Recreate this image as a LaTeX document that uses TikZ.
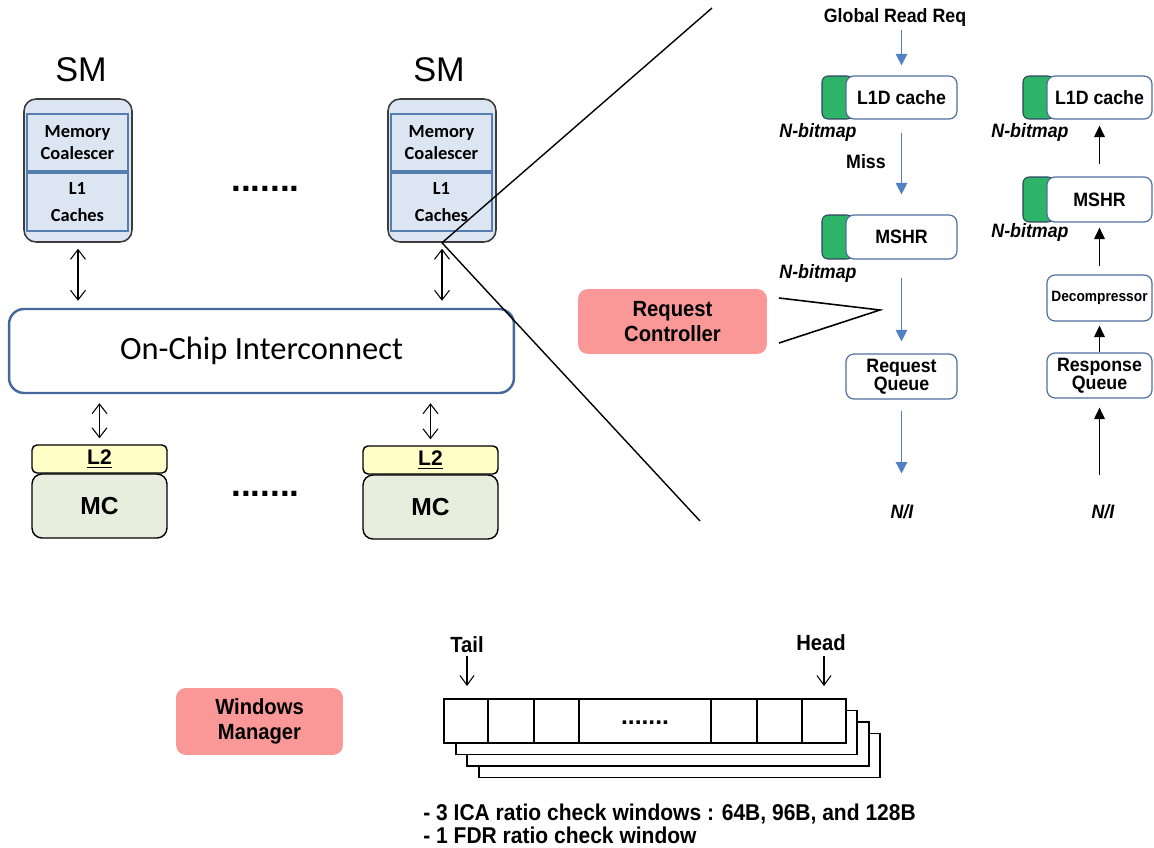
\documentclass[tikz,border=0pt]{standalone}
\usepackage{fontspec}
\setmainfont{Liberation Sans}
\newfontfamily\calfont{Carlito}
\newfontfamily\narrowfont[FakeStretch=0.92]{Liberation Sans}
\usetikzlibrary{arrows.meta}

\definecolor{smfill}{RGB}{220,230,242}
\definecolor{smline}{RGB}{60,60,60}
\definecolor{cellline}{RGB}{84,125,176}
\definecolor{icline}{RGB}{70,105,155}
\definecolor{lyellow}{RGB}{255,255,200}
\definecolor{mcfill}{RGB}{233,237,222}
\definecolor{boxline}{RGB}{80,110,160}
\definecolor{tabgreen}{RGB}{45,180,105}
\definecolor{flowblue}{RGB}{80,130,195}
\definecolor{ctrlpink}{RGB}{250,152,152}

\tikzset{
  smbox/.style={draw=smline, line width=0.9pt, fill=smfill, rounded corners=0.24cm,
    minimum width=2.16cm, minimum height=2.86cm, inner sep=0},
  smcell/.style={draw=cellline, line width=0.9pt, fill=smfill, minimum width=2.02cm,
    align=center, inner sep=0, font=\calfont\bfseries\fontsize{10.5}{12.5}\selectfont},
  smlabel/.style={font=\fontsize{19.5}{22}\selectfont, inner sep=0},
  dbl/.style={{Straight Barb[length=5.5pt,width=8.5pt]}-{Straight Barb[length=5.5pt,width=8.5pt]}, line width=0.6pt},
  icbox/.style={draw=icline, line width=1.4pt, fill=white, rounded corners=0.3cm,
    minimum width=10.1cm, minimum height=1.68cm, font=\calfont\fontsize{18.5}{22}\selectfont},
  l2box/.style={draw=black, line width=0.8pt, fill=lyellow, rounded corners=0.1cm,
    minimum width=2.7cm, minimum height=0.56cm, inner sep=0, font=\bfseries\fontsize{12}{14}\selectfont},
  mcbox/.style={draw=black, line width=0.8pt, fill=mcfill, rounded corners=0.2cm,
    minimum width=2.7cm, minimum height=1.28cm, inner sep=0, font=\bfseries\fontsize{14}{16}\selectfont},
  bigdots/.style={font=\bfseries\fontsize{20}{22}\selectfont, inner sep=0, anchor=base},
  zoomline/.style={line width=0.8pt},
  unit/.style={draw=boxline, line width=0.7pt, fill=white, rounded corners=0.16cm, inner sep=0,
    align=center, font=\narrowfont\bfseries\fontsize{11}{10.5}\selectfont},
  tab/.style={draw=boxline!60!black, fill=tabgreen, rounded corners=0.12cm, minimum width=0.62cm,
    inner sep=0, line width=0.6pt},
  bitmap/.style={font=\narrowfont\bfseries\itshape\fontsize{11}{13}\selectfont, inner sep=0},
  lbl/.style={font=\narrowfont\bfseries\fontsize{11}{13}\selectfont, inner sep=0},
  niface/.style={font=\narrowfont\bfseries\itshape\fontsize{11}{13}\selectfont, inner sep=0},
  flow/.style={draw=flowblue, line width=0.8pt, -{Triangle[length=6.5pt,width=6.5pt]}},
  resp/.style={line width=0.9pt, -{Triangle[length=6.5pt,width=6pt]}},
  ctrl/.style={fill=ctrlpink, rounded corners=0.2cm, align=center, inner sep=0,
    font=\narrowfont\bfseries\fontsize{12.5}{14}\selectfont},
  winbox/.style={draw=black, line width=1.1pt, fill=white, minimum width=8.04cm,
    minimum height=0.88cm, inner sep=0},
  winline/.style={line width=1.1pt},
  ptr/.style={line width=0.6pt, -{Straight Barb[length=5.5pt,width=8pt]}},
  note/.style={font=\narrowfont\bfseries\fontsize{13}{15}\selectfont, inner sep=0, anchor=base west}
}

\begin{document}
\begin{tikzpicture}[x=0.02cm, y=-0.02cm]
\useasboundingbox (0,0) rectangle (1154,848);

% ---------- streaming multiprocessors ----------
\node[smlabel] (sml1) at (81,70) {SM};
\node[smlabel] (sml2) at (439,70) {SM};

\node[smbox] (sm1) at (78,170.5) {};
\node[smcell, minimum height=1.14cm] (mc1) at (77.5,142.5) {Memory\\Coalescer};
\node[smcell, minimum height=1.16cm] (lc1) at (77.5,202) {L1\\[3pt]Caches};

\node[smbox] (sm2) at (442,170.5) {};
\node[smcell, minimum height=1.14cm] (mc2) at (441.5,142.5) {Memory\\Coalescer};
\node[smcell, minimum height=1.16cm] (lc2) at (441.5,202) {L1\\[3pt]Caches};

\node[bigdots] (dotsA) at (265.5,192) {.......};

% ---------- interconnect ----------
\node[icbox] (ic) at (261.5,351) {On-Chip Interconnect};

\draw[dbl, shorten <=0.12cm, shorten >=0.14cm] (sm1.south) -- (sm1.south |- ic.north);
\draw[dbl, shorten <=0.12cm, shorten >=0.14cm] (sm2.south) -- (sm2.south |- ic.north);

% ---------- L2 slices and memory controllers ----------
\node[l2box] (l2a) at (99.5,459) {\underline{L2}};
\node[mcbox] (mca) at (99.5,506) {MC};
\node[l2box] (l2b) at (430.5,460) {\underline{L2}};
\node[mcbox] (mcb) at (430.5,507) {MC};
\node[bigdots] (dotsB) at (265.5,496) {.......};

\draw[dbl, shorten <=0.18cm, shorten >=0.12cm] (l2a.north |- ic.south) -- (l2a.north);
\draw[dbl, shorten <=0.18cm, shorten >=0.12cm] (l2b.north |- ic.south) -- (l2b.north);

% ---------- magnified view ----------
\coordinate (zt) at (712,8);
\coordinate (zb) at (700,521);
\draw[zoomline] (sm2.south) -- (zt);
\draw[zoomline] (sm2.south) -- (zb);

% request path
\node[lbl] (grr) at (895,18) {Global Read Req};
\node[tab, minimum height=0.86cm] (tabA1) at (837.5,97.5) {};
\node[unit, minimum width=2.22cm, minimum height=0.86cm] (l1dA) at (901.5,97.5) {L1D cache};
\node[bitmap] (bmA1) at (818,133) {N-bitmap};
\node[lbl] (miss) at (866,162) {Miss};
\node[tab, minimum height=0.88cm] (tabA2) at (837.5,237) {};
\node[unit, minimum width=2.22cm, minimum height=0.88cm] (mshrA) at (901.5,237) {MSHR};
\node[bitmap] (bmA2) at (818,274) {N-bitmap};
\node[unit, minimum width=2.22cm, minimum height=0.9cm] (rq) at (901.5,376.5) {Request\\Queue};
\node[niface] (niA) at (902,512) {N/I};

\draw[flow, shorten <=0.06cm, shorten >=0.2cm] (grr.south -| l1dA.north) -- (l1dA.north);
\draw[flow, shorten <=0.26cm, shorten >=0.4cm] (l1dA.south) -- (mshrA.north);
\draw[flow, shorten <=0.36cm, shorten >=0.24cm] (mshrA.south) -- (rq.north);
\draw[flow, shorten <=0.22cm, shorten >=0.62cm] (rq.south) -- (rq.south |- niA.north);

% response path
\node[tab, minimum height=0.86cm] (tabB1) at (1038.5,97.5) {};
\node[unit, minimum width=2.1cm, minimum height=0.86cm] (l1dB) at (1099.5,97.5) {L1D cache};
\node[bitmap] (bmB1) at (1030,133) {N-bitmap};
\node[tab, minimum height=0.9cm] (tabB2) at (1038.5,199.5) {};
\node[unit, minimum width=2.1cm, minimum height=0.9cm] (mshrB) at (1099.5,199.5) {MSHR};
\node[bitmap] (bmB2) at (1030,233) {N-bitmap};
\node[unit, minimum width=2.1cm, minimum height=0.92cm, font=\narrowfont\bfseries\fontsize{8.5}{10}\selectfont] (dec) at (1099.5,298) {Decompressor};
\node[unit, minimum width=2.1cm, minimum height=0.9cm] (rspq) at (1099.5,375.5) {Response\\Queue};
\node[niface] (niB) at (1103,512) {N/I};

\draw[resp, shorten <=0.58cm, shorten >=0.18cm] (rspq.south |- niB.north) -- (rspq.south);
\draw[resp, shorten >=0.08cm] (rspq.north) -- (dec.south);
\draw[resp, shorten <=0.16cm, shorten >=0.1cm] (dec.north) -- (mshrB.south);
\draw[resp, shorten <=0.24cm, shorten >=0.12cm] (mshrB.north) -- (l1dB.south);

% request controller
\node[ctrl, minimum width=3.78cm, minimum height=1.3cm] (rc) at (672.5,321.5) {Request\\Controller};
\coordinate (rcA) at (779,298);
\coordinate (rcV) at (880,310);
\coordinate (rcB) at (779,343);
\draw[line width=0.9pt] (rcA) -- (rcV) -- (rcB);

% ---------- windows manager ----------
\node[ctrl, minimum width=3.34cm, minimum height=1.34cm] (wm) at (259.5,721.5) {Windows\\Manager};

\node[winbox] (w3) at (679.5,755.5) {};
\node[winbox] (w2) at (668,744) {};
\node[winbox] (w1) at (656.5,732.5) {};
\node[winbox] (w0) at (645,721) {};
\foreach \x in {488,534,579,711,757,802}
  \draw[winline] (\x,0 |- w0.north) -- (\x,0 |- w0.south);
\node[font=\bfseries\fontsize{14}{16}\selectfont, inner sep=0, anchor=base] (wdots) at (645,724.5) {.......};

\node[font=\narrowfont\bfseries\fontsize{12.5}{14}\selectfont, inner sep=0] (tail) at (467,645) {Tail};
\node[font=\narrowfont\bfseries\fontsize{12.5}{14}\selectfont, inner sep=0] (head) at (821,643) {Head};
\draw[ptr, shorten <=0.06cm, shorten >=0.24cm] (tail.south) -- (tail.south |- w0.north);
\draw[ptr, shorten <=0.1cm, shorten >=0.24cm] ([xshift=0.06cm]head.south) -- ([xshift=0.06cm]head.south |- w0.north);

\node[note] (n1) at (423,820) {- 3 ICA ratio check windows : 64B, 96B, and 128B};
\node[note] (n2) at (423,843) {- 1 FDR ratio check window};
\end{tikzpicture}
\end{document}
